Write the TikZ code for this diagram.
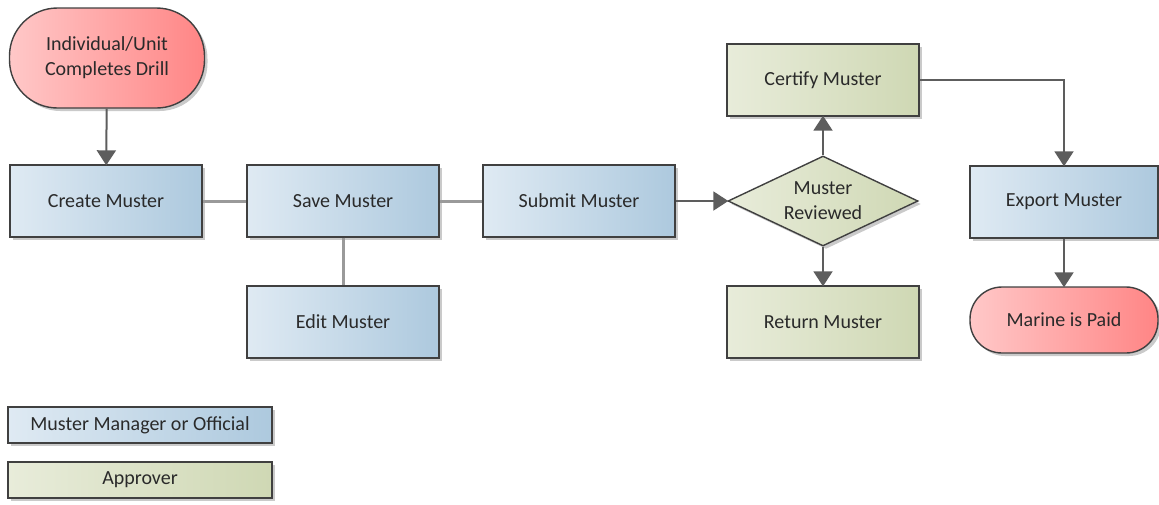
\documentclass[tikz,border=0pt]{standalone}
\usepackage{fontspec}
\setmainfont{Carlito}
\usetikzlibrary{shapes.geometric,arrows.meta,shadows}
\definecolor{bluelt}{HTML}{DFEAF3}
\definecolor{bluedk}{HTML}{ADC9DE}
\definecolor{grnlt}{HTML}{E8ECDA}
\definecolor{grndk}{HTML}{CFD8B4}
\definecolor{redlt}{HTML}{FFC8C8}
\definecolor{reddk}{HTML}{FF8585}
\definecolor{edge}{HTML}{404040}
\definecolor{txt}{HTML}{2A2A2A}
\definecolor{linkgray}{HTML}{9A9A9A}
\tikzset{
  base/.style={draw=edge, line width=1.4pt, text=txt, font=\fontsize{20}{25}\selectfont, align=center,
    drop shadow={shadow xshift=3pt, shadow yshift=-3pt, fill=black!35, opacity=0.6}},
  bluebox/.style={base, rectangle, left color=bluelt, right color=bluedk, minimum width=192pt, minimum height=72pt, inner sep=0pt},
  greenbox/.style={base, rectangle, left color=grnlt, right color=grndk, minimum width=192pt, minimum height=72pt, inner sep=0pt},
  terminal/.style={base, rectangle, left color=redlt, right color=reddk, inner sep=0pt},
  decision/.style={base, diamond, left color=grnlt, right color=grndk, minimum width=190pt, minimum height=90pt, inner sep=0pt, aspect=2.16},
  plainlink/.style={draw=linkgray, line width=3pt},
  arrowlink/.style={draw=edge!85, line width=2pt, -{Triangle[width=19pt,length=15pt]}, shorten >=-1pt},
}
\begin{document}
\begin{tikzpicture}[x=1pt,y=-1pt]
\useasboundingbox (0,0) rectangle (1159,504);
\node[terminal, minimum width=195pt, minimum height=100pt, rounded corners=48pt] (start) at (107,58) {Individual/Unit\\Completes Drill};
\node[bluebox] (create) at (106,201) {Create Muster};
\node[bluebox] (save) at (343,201) {Save Muster};
\node[bluebox] (edit) at (343,322) {Edit Muster};
\node[bluebox] (submit) at (579,201) {Submit Muster};
\node[decision] (review) at (823,201) {Muster\\Reviewed};
\node[greenbox] (certify) at (823,80) {Certify Muster};
\node[greenbox] (return) at (823,322) {Return Muster};
\node[bluebox, minimum width=188pt] (export) at (1064,202) {Export Muster};
\node[terminal, minimum width=188pt, minimum height=66pt, rounded corners=32pt] (paid) at (1064,320) {Marine is Paid};
\node[bluebox, minimum width=264pt, minimum height=36pt] (legA) at (140,425) {Muster Manager or Official};
\node[greenbox, minimum width=264pt, minimum height=36pt] (legB) at (140,480) {Approver};

\draw[plainlink] (create) -- (save);
\draw[plainlink] (save) -- (submit);
\draw[plainlink] (save) -- (edit);
\draw[arrowlink] (start) -- (create);
\draw[arrowlink] (submit) -- (review);
\draw[arrowlink] (review) -- (certify);
\draw[arrowlink] (review) -- (return);
\draw[arrowlink] (certify.east) -| (export.north);
\draw[arrowlink] (export) -- (paid);
\end{tikzpicture}
\end{document}
